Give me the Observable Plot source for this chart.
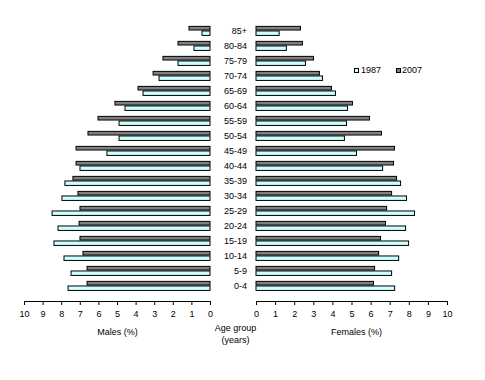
<!DOCTYPE html>
<html>
<head>
<meta charset="utf-8">
<script src="https://cdn.jsdelivr.net/npm/d3@7"></script>
<script src="https://cdn.jsdelivr.net/npm/@observablehq/plot@0.6"></script>
<style>
  body { margin: 0; background: #fff; }
  #wrap { position: relative; width: 485px; height: 380px; background: #fff; font-family: "Liberation Sans", Arial, sans-serif; font-size: 9px; }
  #left, #right { position: absolute; top: 0; }
  #left { left: 0; }
  #right { left: 212px; }
  .lg { position: absolute; }
  .sw { position: absolute; width: 3px; height: 3px; border: 1px solid #000; }
</style>
</head>
<body>
<div id="wrap">
  <div id="left"></div>
  <div id="right"></div>
  <div class="sw" style="left:354px;top:68px;background:#ccffff"></div>
  <div class="lg" style="left:361px;top:65px;">1987</div>
  <div class="sw" style="left:396px;top:68px;background:#808080"></div>
  <div class="lg" style="left:402px;top:65px;">2007</div>
</div>
<script>
// Age groups, youngest first
const ages = ["0-4","5-9","10-14","15-19","20-24","25-29","30-34","35-39","40-44","45-49","50-54","55-59","60-64","65-69","70-74","75-79","80-84","85+"];
const years = ["1987", "2007"];
// Males (%)
const males1987 = [7.63, 7.47, 7.85, 8.39, 8.17, 8.49, 7.96, 7.80, 6.99, 5.54, 4.89, 4.89, 4.57, 3.60, 2.74, 1.72, 0.86, 0.43];
const males2007 = [6.61, 6.61, 6.83, 6.99, 7.04, 6.99, 7.10, 7.37, 7.20, 7.20, 6.56, 6.02, 5.11, 3.87, 3.06, 2.53, 1.72, 1.13];
// Females (%)
const females1987 = [7.26, 7.10, 7.47, 7.99, 7.83, 8.30, 7.88, 7.57, 6.63, 5.26, 4.63, 4.74, 4.79, 4.16, 3.48, 2.59, 1.59, 1.21];
const females2007 = [6.15, 6.21, 6.42, 6.52, 6.78, 6.84, 7.10, 7.36, 7.20, 7.25, 6.57, 5.94, 5.05, 3.95, 3.32, 3.01, 2.43, 2.33];
const xTicks = [0,1,2,3,4,5,6,7,8,9,10];

function rows(v1987, v2007) {
  return ages.flatMap((age, i) => [
    {age, year: "1987", value: v1987[i]},
    {age, year: "2007", value: v2007[i]}
  ]);
}
const maleData = rows(males1987, males2007);
const femaleData = rows(females1987, females2007);
const agesTop = ages.slice().reverse();

const colors = {"1987": "#ccffff", "2007": "#808080"};
const H = 345, MT = 14, MB = 44;
const band = (H - MT - MB) / ages.length;
const half = band / 2;

function bars(data) {
  return [
    Plot.barX(data.filter(d => d.year === "2007"), {
      x: "value", y: "age", fill: colors["2007"], stroke: "#000", strokeWidth: 1,
      insetTop: half - 4.6, insetBottom: half
    }),
    Plot.barX(data.filter(d => d.year === "1987"), {
      x: "value", y: "age", fill: colors["1987"], stroke: "#000", strokeWidth: 1,
      insetTop: half, insetBottom: half - 5.4
    })
  ];
}

const common = {
  height: H, marginTop: MT, marginBottom: MB,
  style: {fontFamily: "'Liberation Sans', Arial, sans-serif", fontSize: "9px", color: "#000", background: "transparent", overflow: "visible"},
};

const left = Plot.plot({
  ...common,
  width: 212, marginLeft: 24, marginRight: 2,
  x: {domain: [0, 10], reverse: true, ticks: xTicks},
  y: {type: "band", domain: agesTop, padding: 0, axis: null},
  marks: [
    ...bars(maleData),
    Plot.frame({anchor: "bottom", stroke: "#000"}),
    Plot.axisX(xTicks, {anchor: "bottom", tickSize: 4, tickPadding: 5, label: null, stroke: "#000"}),
    Plot.text(["Males (%)"], {frameAnchor: "bottom", lineAnchor: "middle", dy: 31})
  ]
});

const right = Plot.plot({
  ...common,
  width: 273, marginLeft: 44, marginRight: 38,
  x: {domain: [0, 10], ticks: xTicks},
  y: {type: "band", domain: agesTop, padding: 0, axis: null},
  marks: [
    ...bars(femaleData),
    Plot.frame({anchor: "bottom", stroke: "#000"}),
    Plot.axisX(xTicks, {anchor: "bottom", tickSize: 4, tickPadding: 5, label: null, stroke: "#000"}),
    Plot.text(agesTop, {y: d => d, frameAnchor: "left", textAnchor: "end", dx: -9.5}),
    Plot.text(["Age group\n(years)"], {frameAnchor: "bottom-left", textAnchor: "middle", lineAnchor: "middle", dx: -21, dy: 31.5, lineHeight: 1.35}),
    Plot.text(["Females (%)"], {frameAnchor: "bottom", lineAnchor: "middle", dx: 4.5, dy: 31})
  ]
});

document.getElementById("left").appendChild(left);
document.getElementById("right").appendChild(right);
</script>
</body>
</html>
